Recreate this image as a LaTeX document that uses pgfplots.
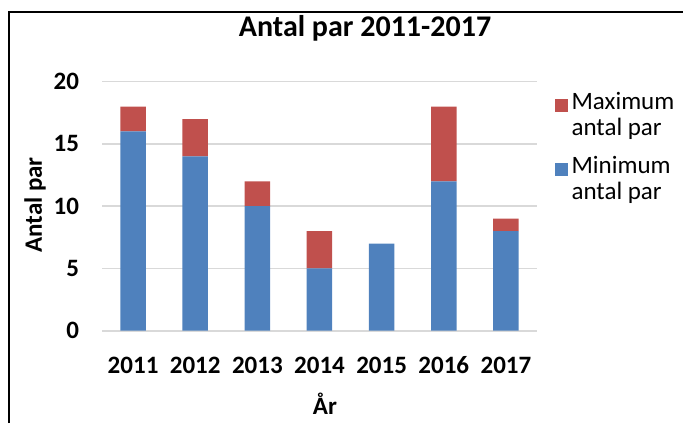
\documentclass[border=0pt]{standalone}
\usepackage{pgfplots}
\pgfplotsset{compat=1.18}
\usepackage{fontspec}
\setmainfont{Carlito}
\definecolor{minc}{HTML}{4F81BD}
\definecolor{maxc}{HTML}{C0504D}
\definecolor{gridc}{HTML}{D9D9D9}
\begin{document}
\begin{tikzpicture}
\useasboundingbox (0,0) rectangle (341.5pt,211.5pt);
\draw[line width=0.7pt] (4.5pt,0) -- (4.5pt,205.5pt) -- (341.5pt,205.5pt);
\begin{axis}[
  at={(51pt,46.15pt)}, anchor=south west,
  scale only axis, width=217.5pt, height=124.5pt,
  xmin=-0.5, xmax=6.5, ymin=0, ymax=20,
  ybar stacked, bar width=12.75pt,
  xtick={0,...,6}, xticklabels={2011,2012,2013,2014,2015,2016,2017},
  ytick={0,5,10,15,20},
  axis line style={draw=none},
  major tick length=0pt,
  ymajorgrids, grid style={gridc, line width=0.8pt},
  /pgf/number format/assume math mode=true,
  ticklabel style={font=\fontsize{12.5}{15}\selectfont\bfseries},
  xticklabel style={yshift=-9.5pt},
  yticklabel style={xshift=-8pt},
  legend style={at={(axis cs:6.68,19.8)}, anchor=north west, draw=none, fill=none,
    font=\fontsize{12.5}{12.8}\selectfont, cells={anchor=west, align=left}, row sep=5pt},
  reverse legend,
  legend image code/.code={\fill[#1] (0pt,1.8pt) rectangle (6.5pt,8.3pt);},
  clip=false,
]
\addplot[fill=minc, draw=none] coordinates {(0,16) (1,14) (2,10) (3,5) (4,7) (5,12) (6,8)};
\addlegendentry{Minimum\\antal par}
\addplot[fill=maxc, draw=none] coordinates {(0,2) (1,3) (2,2) (3,3) (4,0) (5,6) (6,1)};
\addlegendentry{Maximum\\antal par}
\end{axis}
\node[font=\fontsize{15}{18}\selectfont\bfseries] at (182.5pt,197.5pt) {Antal par 2011-2017};
\node[font=\fontsize{12.5}{15}\selectfont\bfseries, rotate=90] at (17.5pt,109pt) {Antal par};
\node[font=\fontsize{12.5}{15}\selectfont\bfseries] at (162.5pt,9.5pt) {År};
\end{tikzpicture}
\end{document}
